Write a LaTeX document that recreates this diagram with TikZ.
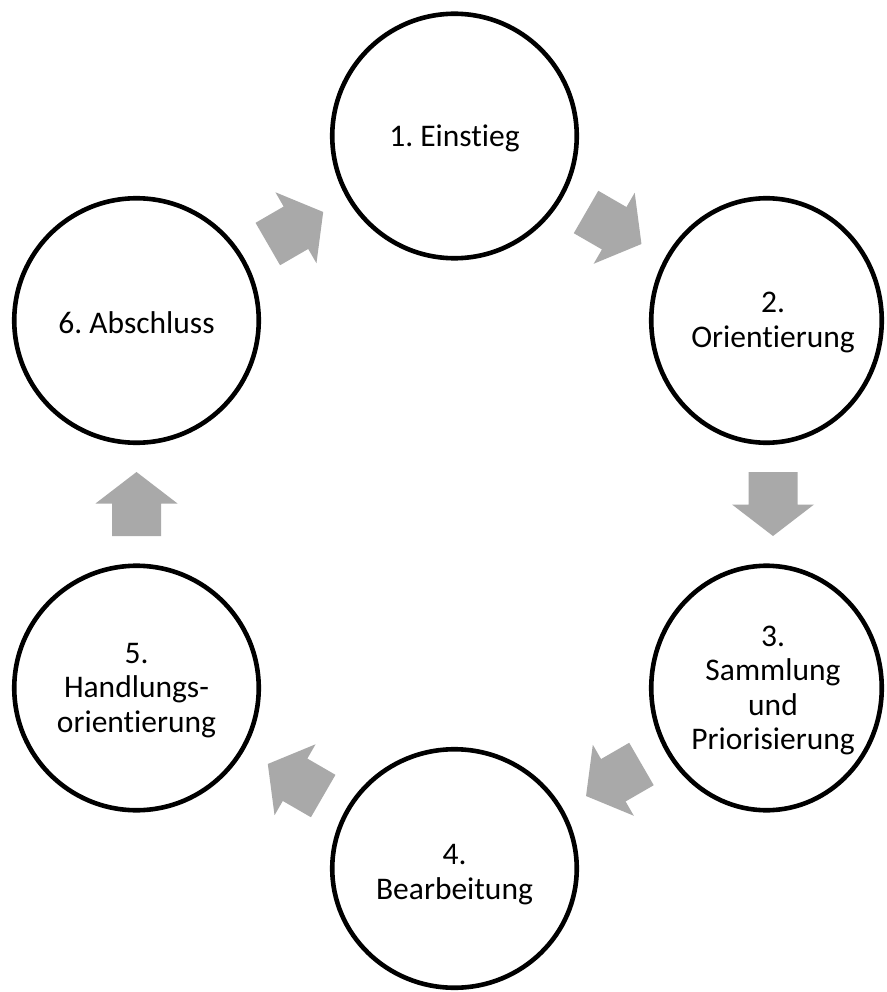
\documentclass[tikz,border=0pt]{standalone}
\usepackage{fontspec}
\setmainfont{Carlito}[Ligatures=NoCommon]
\usetikzlibrary{shapes.geometric,calc}
\frenchspacing
\definecolor{arrowgray}{HTML}{A9A9A9}
\tikzset{
  ring/.style={draw=black, line width=4.6pt, fill=white, inner sep=0pt, outer sep=0pt},
  roundring/.style={ring, circle, minimum size=#1},
  ovalring/.style={ring, ellipse},
  label text/.style={align=center, inner sep=0pt, yshift=-2.5pt,
    font=\fontsize{31.5}{34.5}\selectfont},
  blockarrow/.pic={
    \fill[arrowgray] (-32,-24.5) -- (0.5,-24.5) -- (0.5,-41) -- (32,0)
      -- (0.5,41) -- (0.5,24.5) -- (-32,24.5) -- cycle;
  }
}
\begin{document}
\begin{tikzpicture}[x=1pt,y=1pt]
\useasboundingbox (0,0) rectangle (886,-992);
\fill[white] (0,0) rectangle (886,-992);
% nominal hexagon centres
\coordinate (p1) at (454.5,-136);
\coordinate (p2) at (773,-320);
\coordinate (p3) at (773,-688);
\coordinate (p4) at (454.5,-872);
\coordinate (p5) at (136.5,-688);
\coordinate (p6) at (136.5,-320);
% rings
\node[roundring=244.5pt] (c1) at (454.5,-136) {};
\node[ovalring, minimum width=230.5pt, minimum height=244.5pt] (c2) at (766.5,-320.5) {};
\node[ovalring, minimum width=230.5pt, minimum height=244.5pt] (c3) at (766.5,-688) {};
\node[ovalring, minimum width=244.5pt, minimum height=238.5pt] (c4) at (454.5,-868.5) {};
\node[roundring=244.5pt] (c5) at (136.5,-688) {};
\node[roundring=244.5pt] (c6) at (136.5,-320.5) {};
% texts
\node[label text] (t1) at (p1) {1. Einstieg};
\node[label text] (t2) at (p2) {2.\\Orientierung};
\node[label text] (t3) at (p3) {3.\\Sammlung\\und\\Priorisierung};
\node[label text] (t4) at (p4) {4.\\Bearbeitung};
\node[label text] (t5) at (p5) {5.\\Handlungs-\\orientierung};
\node[label text] (t6) at (p6) {6. Abschluss};
% block arrows
\path (p1) -- (p2) pic[pos=0.5, sloped, allow upside down] {blockarrow};
\path (p2) -- (p3) pic[pos=0.5, sloped, allow upside down] {blockarrow};
\path (p3) -- (p4) pic[pos=0.5, sloped, allow upside down] {blockarrow};
\path (p4) -- (p5) pic[pos=0.5, sloped, allow upside down] {blockarrow};
\path (p5) -- (p6) pic[pos=0.5, sloped, allow upside down] {blockarrow};
\path (p6) -- (p1) pic[pos=0.5, sloped, allow upside down] {blockarrow};
\end{tikzpicture}
\end{document}
